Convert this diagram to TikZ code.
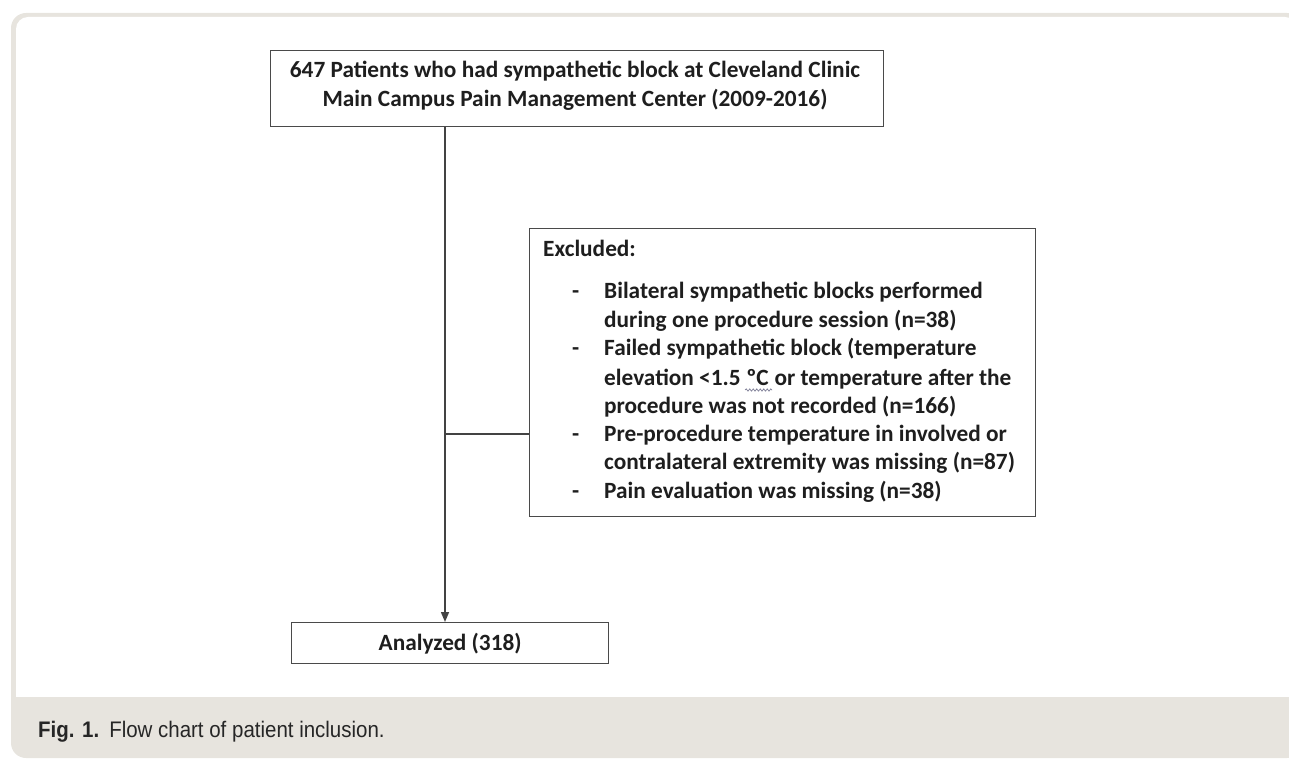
\documentclass[tikz,border=0pt]{standalone}
\usepackage{fontspec}
\setmainfont{Carlito}
\newfontfamily\capfont[FakeStretch=0.91]{Liberation Sans}
\usetikzlibrary{arrows.meta,decorations.pathmorphing}
\definecolor{framegray}{HTML}{E7E4DE}
\definecolor{linegray}{HTML}{4A4A4A}
\definecolor{txt}{HTML}{1E1E1E}
\definecolor{squig}{RGB}{125,125,150}
\tikzset{
  boxnode/.style={draw=linegray, line width=1.3pt, fill=white, inner sep=0pt},
  conn/.style={draw=linegray!90!black, line width=1.5pt},
  bodytext/.style={text=txt, inner sep=0pt, font=\bfseries\fontsize{23.3}{27}\selectfont},
}
\begin{document}
\begin{tikzpicture}[x=1pt,y=-1pt]
\useasboundingbox (0,0) rectangle (1289,759);
% frame
\fill[framegray, rounded corners=15pt] (11,13) rectangle (1302,758);
\begin{scope}
\clip (0,0) rectangle (1289,696);
\fill[white, rounded corners=12pt] (16,17) rectangle (1297,740);
\end{scope}
% boxes
\node[boxnode, minimum width=613pt, minimum height=76pt, anchor=north west] (top) at (270,50) {};
\node[boxnode, minimum width=506pt, minimum height=288pt, anchor=north west] (excl) at (529,228) {};
\node[boxnode, minimum width=317pt, minimum height=41pt, anchor=north west] (ana) at (291,622) {};
% top text
\node[bodytext, anchor=base] (t1) at (575,78) {647 Patients who had sympathetic block at Cleveland Clinic};
\node[bodytext, anchor=base] (t2) at (575,107) {Main Campus Pain Management Center (2009-2016)};
% excluded text
\node[bodytext, anchor=base west] (ex) at (543,256) {Excluded:};
\foreach \y/\n in {298/d1,355.5/d2,441.5/d3,498.5/d4}
  \node[bodytext, anchor=base west] (\n) at (572,\y) {-};
\node[bodytext, anchor=base west] (l1) at (604,298) {Bilateral sympathetic blocks performed};
\node[bodytext, anchor=base west] (l2) at (604,327) {during one procedure session (n=38)};
\node[bodytext, anchor=base west] (l3) at (604,355.5) {Failed sympathetic block (temperature};
\node[bodytext, anchor=base west] (l4a) at (604,385) {elevation <1.5};
\node[bodytext, anchor=base west] (l4b) at ([xshift=5.3pt]l4a.base east) {ºC};
\node[bodytext, anchor=base west] (l4c) at ([xshift=5.3pt]l4b.base east) {or temperature after the};
\node[bodytext, anchor=base west] (l5) at (604,413) {procedure was not recorded (n=166)};
\node[bodytext, anchor=base west] (l6) at (604,441.5) {Pre-procedure temperature in involved or};
\node[bodytext, anchor=base west] (l7) at (604,469.5) {contralateral extremity was missing (n=87)};
\node[bodytext, anchor=base west] (l8) at (604,498.5) {Pain evaluation was missing (n=38)};
\coordinate (sqa) at ([xshift=-1pt,yshift=-5pt]l4b.base west);
\coordinate (sqb) at ([xshift=3pt,yshift=-5pt]l4b.base east);
\draw[squig, line width=0.7pt, decorate, decoration={snake, amplitude=1.1pt, segment length=3.5pt}] (sqa) -- (sqb);
% analyzed text
\node[bodytext, anchor=base] (at) at (ana.center |- 0,650) {Analyzed (318)};
% connectors
\coordinate (join) at (445,434);
\draw[conn, -{Triangle[length=10pt,width=8pt]}] (top.south -| 445,0) -- (ana.north -| 445,0);
\draw[conn] (join) -- (join -| excl.west);
% caption
\node[anchor=base west, inner sep=0pt, text=black!85] (cap) at (38,737) {\capfont\fontsize{22.5}{26}\selectfont\textbf{Fig. 1.}\hspace{10pt}Flow chart of patient inclusion.};
\end{tikzpicture}
\end{document}
